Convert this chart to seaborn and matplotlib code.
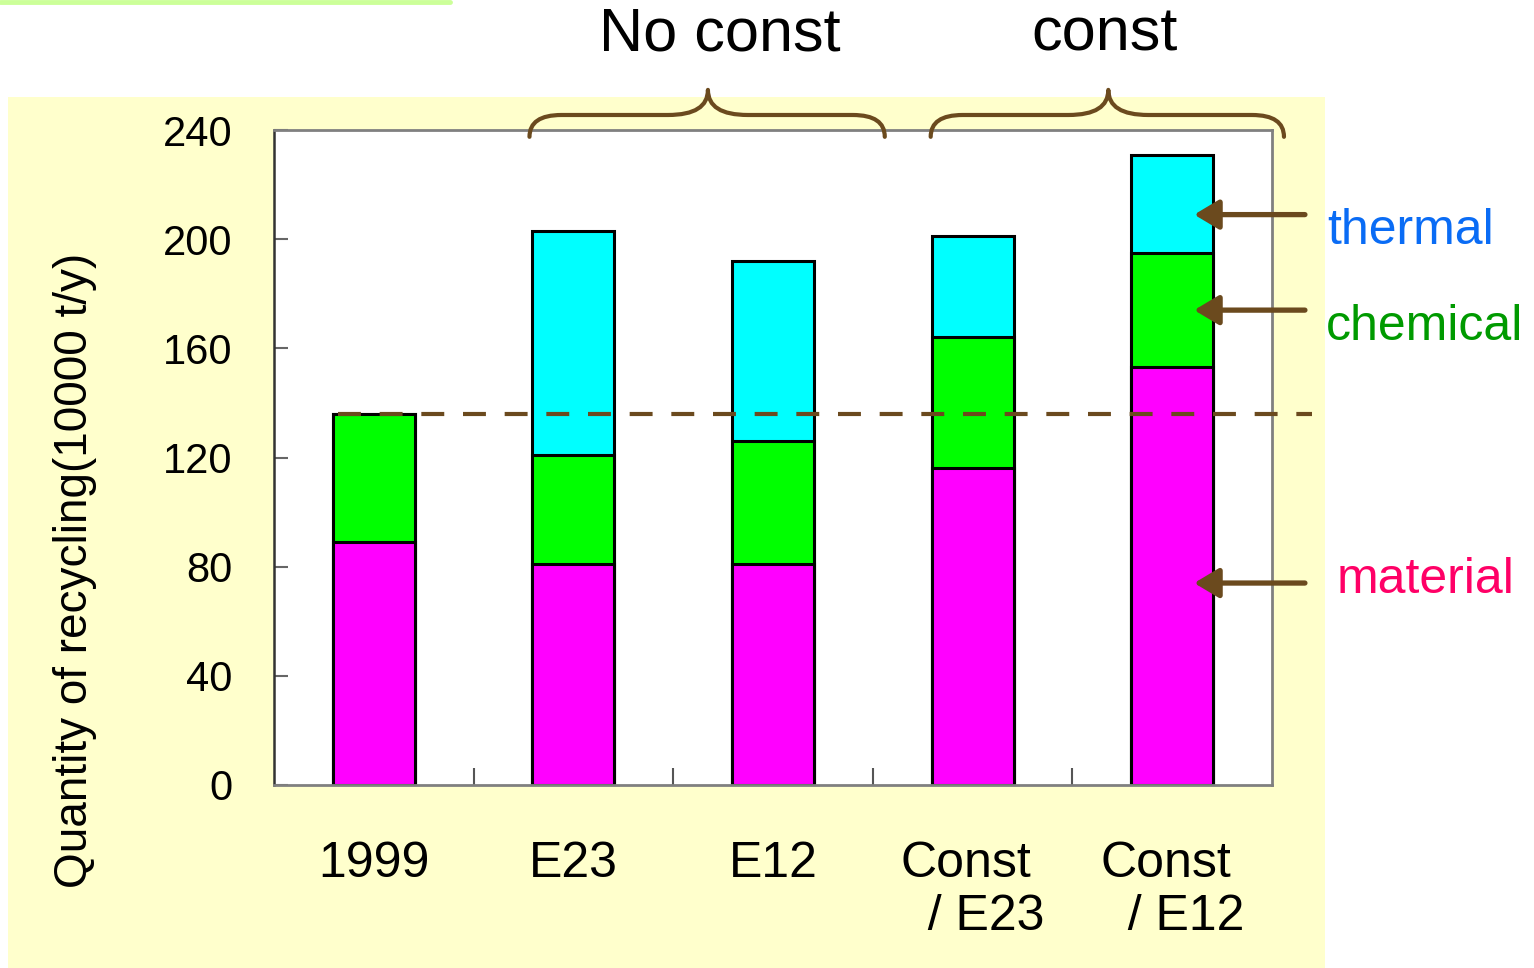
import matplotlib
matplotlib.use("Agg")
import matplotlib.pyplot as plt
import seaborn as sns
import numpy as np
import pandas as pd
from matplotlib.patches import Rectangle, PathPatch
from matplotlib.path import Path
from matplotlib.lines import Line2D
from matplotlib.transforms import ScaledTranslation

# ---- data ----
categories = ["1999", "E23", "E12", "Const/E23", "Const/E12"]
tick_labels = ["1999", "E23", "E12", "Const\n  / E23", "Const\n  / E12"]
material = [89, 81, 81, 116, 153]
chemical = [47, 40, 45, 48, 42]
thermal = [0, 82, 66, 37, 36]
series_names = ["thermal", "chemical", "material"]
series_colors = ["#00FFFF", "#00FF00", "#FF00FF"]
label_colors = ["#0A6CF5", "#009A00", "#FF0066"]
y_ticks = [0, 40, 80, 120, 160, 200, 240]
group_labels = ["No const", "const"]

sns.set_theme(style="white")
plt.rcParams['font.family'] = ['Liberation Sans', 'Noto Sans CJK JP', 'DejaVu Sans']
plt.rcParams['text.color'] = 'black'
plt.rcParams['axes.labelcolor'] = 'black'
plt.rcParams['xtick.labelcolor'] = 'black'
plt.rcParams['ytick.labelcolor'] = 'black'

mat = np.array(material, float)
chem_top = mat + np.array(chemical, float)
total = chem_top + np.array(thermal, float)

df = pd.DataFrame({"cat": categories, "material": mat, "chem_top": chem_top, "total": total})

fig = plt.figure(figsize=(15.34, 9.68), dpi=100)
fig.patch.set_facecolor("white")
# yellow panel and top green rule
fig.patches.append(Rectangle((8/1534, 0), 1317/1534, 871/968, transform=fig.transFigure,
                             facecolor="#FFFFCC", edgecolor="none", zorder=-10))
fig.lines.append(Line2D([0, 450/1534], [1 - 2/968, 1 - 2/968], transform=fig.transFigure,
                        color="#CCFF99", lw=3.5))

ax = fig.add_axes([274/1534, 1 - 785/968, 998/1534, 655/968])
ax.set_facecolor("white")

for col, color in zip(["total", "chem_top", "material"], series_colors):
    sns.barplot(data=df, x="cat", y=col, order=categories, color=color, width=0.41,
                edgecolor="black", linewidth=2.2, saturation=1, ax=ax, zorder=2)

ax.set_xlim(-0.5, 4.5)
ax.set_ylim(0, 240)
ax.set_yticks(y_ticks)
ax.set_yticklabels([str(v) for v in y_ticks], fontsize=30)
ax.set_xticks(range(len(categories)))
ax.set_xticklabels(tick_labels, fontsize=36, linespacing=1.2, multialignment="left")
for lbl in ax.get_xticklabels()[3:]:
    lbl.set_transform(lbl.get_transform() + ScaledTranslation(-0.14, 0, fig.dpi_scale_trans))
ax.set_xticks([0.5, 1.5, 2.5, 3.5], minor=True)
ax.tick_params(axis="x", which="major", length=0, pad=40)
ax.tick_params(axis="x", which="minor", direction="in", length=12, width=1.5, color="#555555", bottom=True)
ax.tick_params(axis="y", which="major", direction="in", length=10, width=1.5, color="#666666", pad=30, left=True)
ax.set_xlabel("")
ax.set_ylabel("Quantity of recycling(10000 t/y)", fontsize=33)
ax.yaxis.label.set_va("center")
ax.yaxis.set_label_coords(-0.199, 0.328)

for s in ["top", "right", "bottom"]:
    ax.spines[s].set_color("#808080")
    ax.spines[s].set_linewidth(2)
ax.spines["left"].set_color("#333333")
ax.spines["left"].set_linewidth(1.8)

brown = "#6B4A1E"
# reference dashed line at 1999 total
ax.plot([-0.18, 4.70], [total[0], total[0]], ls=(0, (5.5, 4.5)), color=brown, lw=3, clip_on=False, zorder=5)

# arrows and series labels
arrow_y = [209, 174, 74]
text_pos = [(4.775, 203), (4.77, 168), (4.826, 75)]
for name, ay, (tx, ty), c in zip(series_names, arrow_y, text_pos, label_colors):
    ax.annotate("", xy=(4.11, ay), xytext=(4.665, ay), xycoords="data",
                arrowprops=dict(arrowstyle="-|>,head_length=0.5,head_width=0.3", color=brown, lw=3.8,
                                mutation_scale=30, shrinkA=0, shrinkB=0),
                annotation_clip=False, zorder=6)
    ax.text(tx, ty, name, color=c, fontsize=36, ha="left", va="center", clip_on=False)

# braces
def brace(x0, x1, xm, y_end, y_mid, y_peak, r=0.16, rm=0.2):
    verts = [(x0, y_end), (x0, y_mid), (x0 + r, y_mid),
             (xm - rm, y_mid), (xm, y_mid), (xm, y_peak),
             (xm, y_mid), (xm + rm, y_mid),
             (x1 - r, y_mid), (x1, y_mid), (x1, y_end)]
    codes = [Path.MOVETO, Path.CURVE3, Path.CURVE3,
             Path.LINETO, Path.CURVE3, Path.CURVE3,
             Path.CURVE3, Path.CURVE3,
             Path.LINETO, Path.CURVE3, Path.CURVE3]
    p = PathPatch(Path(verts, codes), fill=False, edgecolor=brown, lw=3, clip_on=False,
                  zorder=6, capstyle="round", joinstyle="round")
    ax.add_patch(p)

brace(0.78, 2.56, 1.674, 237.5, 245.5, 254.7)
brace(2.79, 4.56, 3.68, 237.5, 245.5, 254.7)

fig.text(720/1534, 1 - 35/968, group_labels[0], fontsize=44, ha="center", va="center")
fig.text(1105/1534, 1 - 35/968, group_labels[1], fontsize=44, ha="center", va="center")

fig.savefig("out.png", dpi=100)
